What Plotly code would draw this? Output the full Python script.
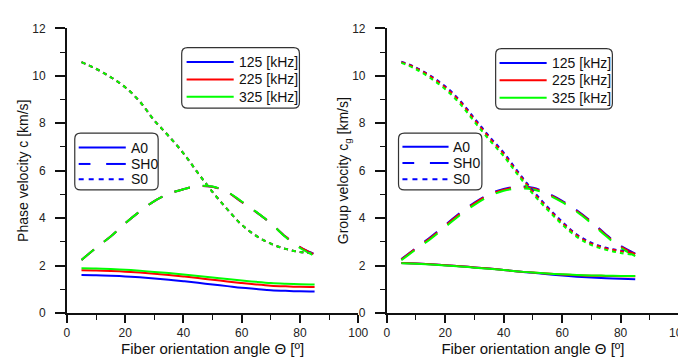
import plotly.graph_objects as go

W, H = 686, 359

angles = [5, 10, 15, 20, 25, 30, 35, 40, 45, 50, 55, 60, 65, 70, 75, 80, 85]
freq_labels = ["125 [kHz]", "225 [kHz]", "325 [kHz]"]
mode_labels = ["A0", "SH0", "S0"]
freq_colors = ["#0000ff", "#ff0000", "#00ff00"]

# Phase velocity [km/s]
phase_A0_125 = [1.60, 1.59, 1.57, 1.54, 1.50, 1.45, 1.40, 1.34, 1.27, 1.20, 1.13, 1.06, 1.01, 0.96, 0.93, 0.91, 0.90]
phase_A0_225 = [1.80, 1.79, 1.77, 1.74, 1.70, 1.65, 1.60, 1.54, 1.47, 1.40, 1.33, 1.26, 1.20, 1.15, 1.12, 1.10, 1.09]
phase_A0_325 = [1.88, 1.87, 1.85, 1.82, 1.78, 1.73, 1.68, 1.62, 1.56, 1.49, 1.43, 1.37, 1.31, 1.26, 1.23, 1.21, 1.20]
phase_SH0_125 = [2.23, 2.75, 3.22, 3.78, 4.28, 4.72, 5.03, 5.22, 5.35, 5.32, 5.10, 4.68, 4.25, 3.78, 3.22, 2.78, 2.48]
phase_SH0_225 = [2.23, 2.75, 3.22, 3.78, 4.28, 4.72, 5.03, 5.22, 5.35, 5.32, 5.10, 4.68, 4.25, 3.78, 3.22, 2.78, 2.46]
phase_SH0_325 = [2.23, 2.75, 3.22, 3.78, 4.28, 4.72, 5.03, 5.22, 5.35, 5.33, 5.11, 4.70, 4.26, 3.78, 3.20, 2.74, 2.40]
phase_S0_125 = [10.58, 10.30, 9.95, 9.52, 8.92, 8.12, 7.45, 6.73, 5.90, 5.10, 4.38, 3.72, 3.25, 2.92, 2.70, 2.57, 2.53]
phase_S0_225 = [10.58, 10.30, 9.95, 9.52, 8.92, 8.12, 7.45, 6.73, 5.90, 5.10, 4.38, 3.72, 3.25, 2.92, 2.70, 2.57, 2.53]
phase_S0_325 = [10.58, 10.30, 9.95, 9.52, 8.92, 8.12, 7.45, 6.73, 5.90, 5.10, 4.38, 3.72, 3.25, 2.92, 2.70, 2.57, 2.52]

# Group velocity [km/s]
group_A0_125 = [2.11, 2.08, 2.05, 2.01, 1.97, 1.92, 1.87, 1.81, 1.75, 1.69, 1.63, 1.58, 1.53, 1.49, 1.46, 1.44, 1.42]
group_A0_225 = [2.11, 2.08, 2.05, 2.01, 1.97, 1.92, 1.87, 1.81, 1.75, 1.70, 1.66, 1.62, 1.59, 1.57, 1.56, 1.55, 1.55]
group_A0_325 = [2.10, 2.07, 2.04, 2.00, 1.96, 1.91, 1.86, 1.81, 1.75, 1.70, 1.66, 1.63, 1.60, 1.58, 1.57, 1.56, 1.56]
group_SH0_125 = [2.27, 2.74, 3.20, 3.71, 4.21, 4.65, 5.01, 5.23, 5.33, 5.28, 5.05, 4.73, 4.33, 3.85, 3.31, 2.83, 2.50]
group_SH0_225 = [2.25, 2.72, 3.17, 3.68, 4.18, 4.62, 4.98, 5.20, 5.30, 5.25, 5.02, 4.70, 4.30, 3.82, 3.28, 2.80, 2.48]
group_SH0_325 = [2.22, 2.68, 3.12, 3.62, 4.12, 4.56, 4.92, 5.15, 5.25, 5.21, 4.99, 4.67, 4.27, 3.78, 3.24, 2.75, 2.40]
group_S0_125 = [10.60, 10.35, 10.00, 9.56, 8.97, 8.21, 7.46, 6.76, 5.94, 5.16, 4.47, 3.85, 3.31, 2.96, 2.75, 2.63, 2.56]
group_S0_225 = [10.58, 10.33, 9.97, 9.52, 8.92, 8.15, 7.40, 6.70, 5.88, 5.10, 4.42, 3.80, 3.27, 2.92, 2.72, 2.60, 2.53]
group_S0_325 = [10.55, 10.28, 9.90, 9.44, 8.83, 8.06, 7.31, 6.61, 5.80, 5.02, 4.35, 3.73, 3.21, 2.86, 2.66, 2.53, 2.44]

phase = {
    "A0": [phase_A0_125, phase_A0_225, phase_A0_325],
    "SH0": [phase_SH0_125, phase_SH0_225, phase_SH0_325],
    "S0": [phase_S0_125, phase_S0_225, phase_S0_325],
}
group = {
    "A0": [group_A0_125, group_A0_225, group_A0_325],
    "SH0": [group_SH0_125, group_SH0_225, group_SH0_325],
    "S0": [group_S0_125, group_S0_225, group_S0_325],
}
mode_dash = {"A0": "solid", "SH0": "16px,13px", "S0": "4px,4px"}

FONT = "Liberation Sans, Arial, sans-serif"
TXT = "#111111"

fig = go.Figure()

def add_panel(data, xa, ya):
    for mode in mode_labels:
        for i in range(3):
            fig.add_trace(go.Scatter(
                x=angles, y=data[mode][i], mode="lines", xaxis=xa, yaxis=ya,
                name=f"{mode} {freq_labels[i]}",
                line=dict(color=freq_colors[i], width=2, dash=mode_dash[mode], shape="spline"),
                showlegend=False, hoverinfo="skip"))

add_panel(phase, "x", "y")
add_panel(group, "x2", "y2")

def px2paper(x, y):
    return x / W, 1 - y / H

def rounded_rect(x0, y0, x1, y1, r=6):
    def p(x, y):
        a, b = px2paper(x, y)
        return f"{a:.5f},{b:.5f}"
    path = (f"M{p(x0 + r, y0)} L{p(x1 - r, y0)} Q{p(x1, y0)} {p(x1, y0 + r)} "
            f"L{p(x1, y1 - r)} Q{p(x1, y1)} {p(x1 - r, y1)} "
            f"L{p(x0 + r, y1)} Q{p(x0, y1)} {p(x0, y1 - r)} "
            f"L{p(x0, y0 + r)} Q{p(x0, y0)} {p(x0 + r, y0)} Z")
    return dict(type="path", xref="paper", yref="paper", path=path,
                line=dict(color="#333333", width=1.2), fillcolor="rgba(255,255,255,0)", layer="above")

def seg(x0, x1, y, color, dash="solid"):
    a0, b = px2paper(x0, y)
    a1, _ = px2paper(x1, y)
    return dict(type="line", xref="paper", yref="paper", x0=a0, x1=a1, y0=b, y1=b,
                line=dict(color=color, width=2, dash=dash), layer="above")

def label(x, y, text):
    a, b = px2paper(x, y)
    return dict(xref="paper", yref="paper", x=a, y=b, text=text, showarrow=False,
                xanchor="left", yanchor="middle", font=dict(family=FONT, size=14, color=TXT))

shapes = []
annotations = []

def freq_legend(bx0, by0, bx1, by1, lx0, lx1, tx, rows):
    shapes.append(rounded_rect(bx0, by0, bx1, by1))
    for i, ry in enumerate(rows):
        shapes.append(seg(lx0, lx1, ry, freq_colors[i]))
        annotations.append(label(tx, ry, freq_labels[i]))

def mode_legend(bx0, by0, bx1, by1, lx0, lx1, tx, rows):
    shapes.append(rounded_rect(bx0, by0, bx1, by1))
    c = "#0000ff"
    shapes.append(seg(lx0, lx1, rows[0], c))
    shapes.append(seg(lx0, lx0 + 12, rows[1], c))
    shapes.append(seg(lx0 + 28, lx1, rows[1], c))
    shapes.append(seg(lx0, lx1, rows[2], c, dash="5px,5px"))
    for i, ry in enumerate(rows):
        annotations.append(label(tx, ry, mode_labels[i]))

freq_legend(174, 34, 294, 97, 179, 227, 230, [49, 67, 85])
mode_legend(65, 123, 150, 182, 69, 117, 120, [138, 155, 171])
freq_legend(494, 35, 613, 98, 498, 546, 549, [50, 68, 86])
mode_legend(395, 123, 480, 182, 399, 446, 449, [137, 154, 171])

axis_common = dict(
    range=[0, 100], dtick=20, tick0=0, showgrid=False, zeroline=False,
    showline=True, linecolor=TXT, linewidth=1.6, ticks="outside", ticklen=8,
    tickwidth=1.6, tickcolor=TXT, tickfont=dict(family=FONT, size=12, color="#222"),
    minor=dict(dtick=10, ticks="outside", ticklen=5, tickwidth=1.4, tickcolor=TXT),
    title=dict(text="Fiber orientation angle \u0398 [\u00ba]", font=dict(family=FONT, size=15, color=TXT), standoff=0),
    mirror=False,
)
yaxis_common = dict(
    range=[0, 12], dtick=2, tick0=0, showgrid=False, zeroline=False,
    showline=True, linecolor=TXT, linewidth=1.6, ticks="outside", ticklen=10,
    tickwidth=1.6, tickcolor=TXT, tickfont=dict(family=FONT, size=12, color="#222"),
    minor=dict(dtick=1, ticks="outside", ticklen=5, tickwidth=1.4, tickcolor=TXT),
    ticklabelstandoff=7,
    mirror=False,
)

yb, yt = 1 - 310 / H, 1 - 14 / H

fig.update_layout(
    width=W, height=H, margin=dict(l=0, r=0, t=0, b=0),
    paper_bgcolor="white", plot_bgcolor="white",
    font=dict(family=FONT, color=TXT),
    xaxis=dict(axis_common, domain=[57 / W, 354 / W], anchor="y"),
    yaxis=dict(yaxis_common, domain=[yb, yt], anchor="x",
               title=dict(text="Phase velocity c [km/s]", font=dict(family=FONT, size=14, color=TXT), standoff=0)),
    xaxis2=dict(axis_common, domain=[383 / W, 681 / W], anchor="y2"),
    yaxis2=dict(yaxis_common, domain=[yb, yt], anchor="x2",
                title=dict(text="Group velocity c<sub>g</sub> [km/s]", font=dict(family=FONT, size=14, color=TXT), standoff=0)),
    shapes=shapes,
    annotations=annotations,
    showlegend=False,
)

fig.write_html("out.html")
